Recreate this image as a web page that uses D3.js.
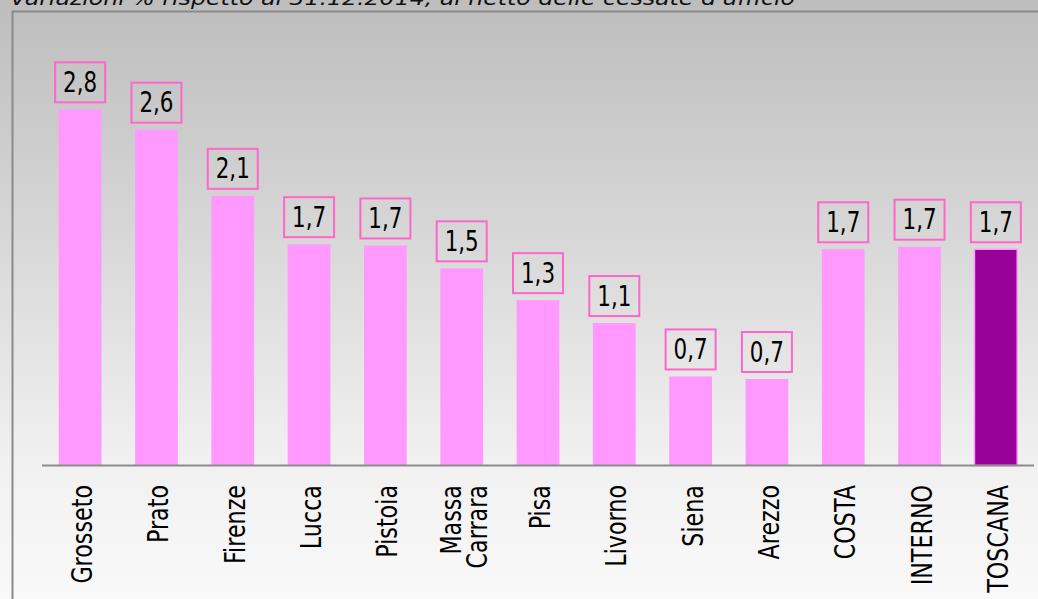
<!DOCTYPE html>
<html>
<head>
<meta charset="utf-8">
<script src="https://cdn.jsdelivr.net/npm/d3@7"></script>
<style>
  html, body { margin: 0; padding: 0; background: #f7f7f7; }
  svg { display: block; }
</style>
</head>
<body>
<div id="chart"></div>
<script>
// ---- data ----
const title = "Variazioni % rispetto al 31.12.2014, al netto delle cessate d'ufficio";
const categories = ["Grosseto", "Prato", "Firenze", "Lucca", "Pistoia", "Massa Carrara",
  "Pisa", "Livorno", "Siena", "Arezzo", "COSTA", "INTERNO", "TOSCANA"];
const values = [2.80, 2.64, 2.12, 1.74, 1.73, 1.55, 1.30, 1.12, 0.70, 0.68, 1.70, 1.72, 1.70];
const valueLabels = ["2,8", "2,6", "2,1", "1,7", "1,7", "1,5", "1,3", "1,1", "0,7", "0,7", "1,7", "1,7", "1,7"];
const highlight = ["TOSCANA"];

// ---- layout ----
const W = 1038, H = 599;
const svg = d3.select("#chart").append("svg").attr("width", W).attr("height", H);

const defs = svg.append("defs");
const grad = defs.append("linearGradient").attr("id", "bg")
  .attr("x1", 0).attr("y1", 0).attr("x2", 0).attr("y2", 1);
grad.append("stop").attr("offset", "0%").attr("stop-color", "#bdbdbd");
grad.append("stop").attr("offset", "78%").attr("stop-color", "#f1f1f1");
grad.append("stop").attr("offset", "100%").attr("stop-color", "#f9f9f9");

svg.append("rect").attr("x", 0).attr("y", 0).attr("width", W).attr("height", H)
  .attr("fill", "url(#bg)");

// frame
svg.append("path")
  .attr("d", `M12.5,${H + 5} L12.5,11.5 L${W + 5},11.5`)
  .attr("fill", "none").attr("stroke", "#8a8a8a").attr("stroke-width", 2);

// title (partly cut off at the top)
svg.append("text")
  .attr("x", 10).attr("y", 5)
  .attr("font-family", "DejaVu Sans, Verdana, sans-serif")
  .attr("font-style", "italic")
  .attr("font-size", 19)
  .attr("fill", "#111")
  .attr("textLength", 785).attr("lengthAdjust", "spacingAndGlyphs")
  .text(title);

const x = d3.scaleBand().domain(categories).range([42, 1034])
  .paddingInner(0.44).paddingOuter(0.22);
const y = d3.scaleLinear().domain([0, 3]).range([465.5, 465.5 - 3 * 127.2]);

const condense = 0.78;
const font = "DejaVu Sans, Verdana, sans-serif";

// bars
svg.append("g").selectAll("rect").data(categories).join("rect")
  .attr("x", d => x(d))
  .attr("width", x.bandwidth())
  .attr("y", (d, i) => y(values[i]))
  .attr("height", (d, i) => y(0) - y(values[i]))
  .attr("fill", d => highlight.includes(d) ? "#990099" : "#ff99ff")
  .attr("stroke", d => highlight.includes(d) ? "#ff99ff" : "none")
  .attr("stroke-width", 1.5);

// axis line
svg.append("line")
  .attr("x1", x.range()[0]).attr("x2", x.range()[1])
  .attr("y1", y(0)).attr("y2", y(0))
  .attr("stroke", "#8c8c8c").attr("stroke-width", 2);

// value label boxes
const lab = svg.append("g").selectAll("g").data(categories).join("g")
  .attr("transform", (d, i) => `translate(${x(d) + x.bandwidth() / 2},${y(values[i]) - 7})`);
lab.append("rect")
  .attr("x", -25).attr("y", -40).attr("width", 50).attr("height", 40)
  .attr("fill", "none").attr("stroke", "#ff66cc").attr("stroke-width", 2);
lab.append("text")
  .attr("transform", `translate(0,-10.5) scale(${condense},1)`)
  .attr("text-anchor", "middle")
  .attr("font-family", font).attr("font-size", 27.5).attr("fill", "#000")
  .text((d, i) => valueLabels[i]);

// category labels (rotated)
const cat = svg.append("g").selectAll("g").data(categories).join("g")
  .attr("transform", d => `translate(${x(d) + x.bandwidth() / 2},485) rotate(-90) scale(${condense},1)`);
cat.each(function(d) {
  const g = d3.select(this);
  const words = d === "Massa Carrara" ? ["Massa", "Carrara"] : [d];
  const n = words.length;
  words.forEach((w, k) => {
    const off = n === 1 ? 12 : (k === 0 ? -1 : 25);
    g.append("text")
      .attr("x", 0).attr("y", off)
      .attr("text-anchor", "end")
      .attr("font-family", font).attr("font-size", 28.5).attr("fill", "#000")
      .text(w);
  });
});
</script>
</body>
</html>
